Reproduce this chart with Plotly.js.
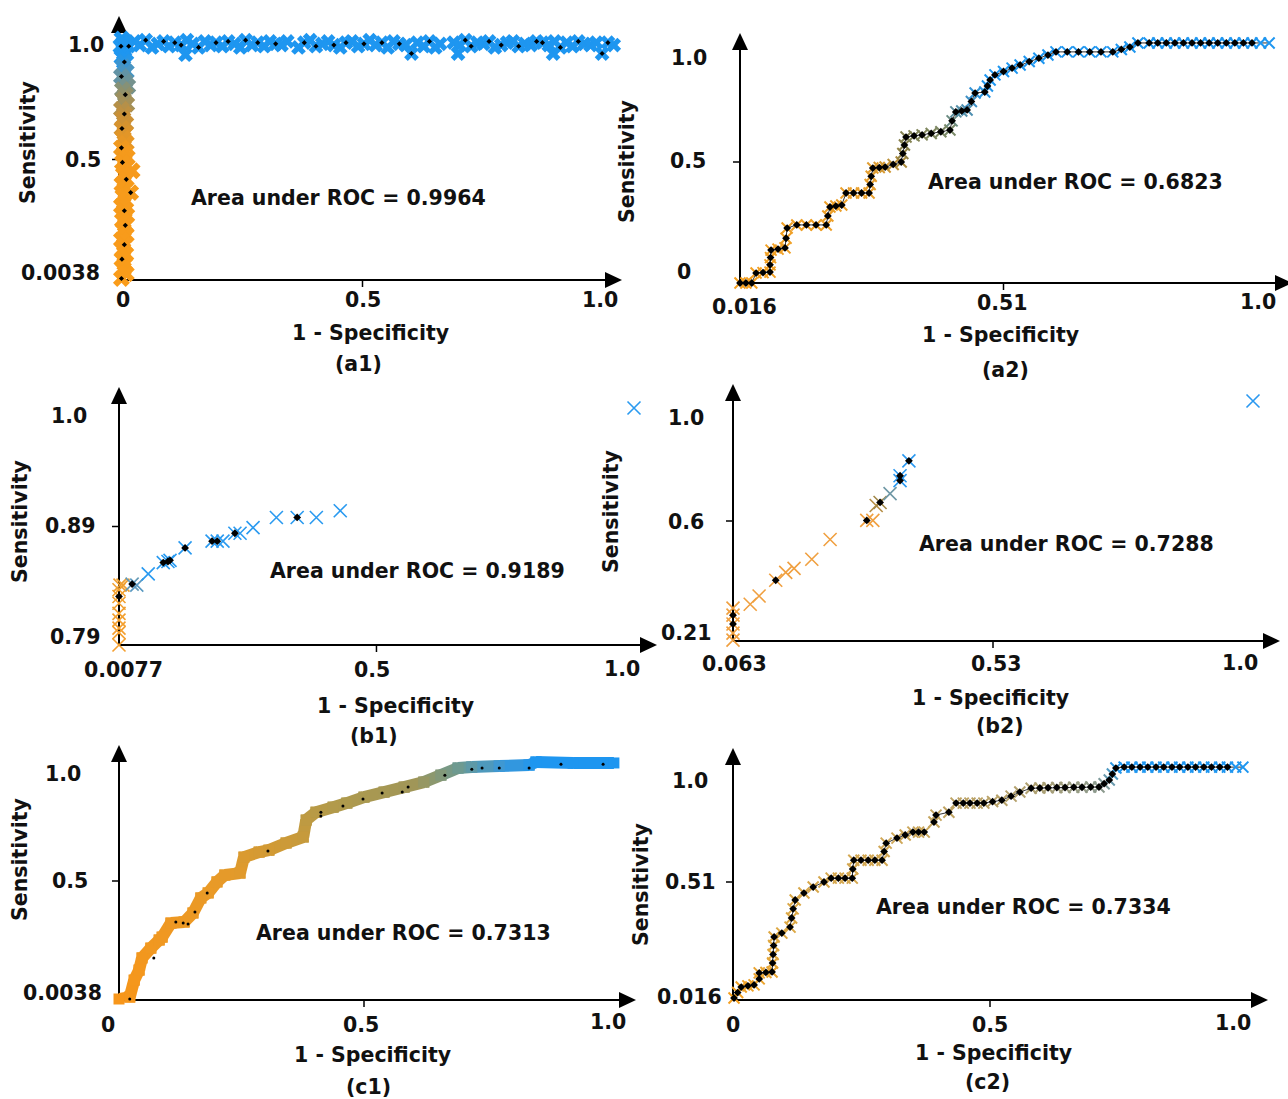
<!DOCTYPE html>
<html><head><meta charset="utf-8">
<script src="https://cdn.plot.ly/plotly-3.0.1.min.js"></script>
<style>html,body{margin:0;padding:0;background:#fff}</style>
</head><body><div id="chart" style="width:1288px;height:1099px"></div>
<script>
// ---------------- DATA ----------------
const panelCaptions = ['(a1)','(a2)','(b1)','(b2)','(c1)','(c2)'];
const aucValues = ['0.9964','0.6823','0.9189','0.7288','0.7313','0.7334'];
const xAxisTitle = '1 - Specificity';
const yAxisTitle = 'Sensitivity';

const a1XTicks = ['0','0.5','1.0'];      const a1YTicks = ['1.0','0.5','0.0038'];
const a2XTicks = ['0.016','0.51','1.0']; const a2YTicks = ['1.0','0.5','0'];
const b1XTicks = ['0.0077','0.5','1.0']; const b1YTicks = ['1.0','0.89','0.79'];
const b2XTicks = ['0.063','0.53','1.0']; const b2YTicks = ['1.0','0.6','0.21'];
const c1XTicks = ['0','0.5','1.0'];      const c1YTicks = ['1.0','0.5','0.0038'];
const c2XTicks = ['0','0.5','1.0'];      const c2YTicks = ['1.0','0.51','0.016'];

// (a1) vertical part of the curve  [1-specificity, sensitivity]
const a1Vertical = [[0.004,1.000],[0.010,0.985],[0.002,0.970],[0.008,0.955],[0.012,0.940],[0.004,0.925],[0.009,0.905],[0.006,0.885],[0.013,0.865],[0.003,0.845],[0.010,0.825],[0.016,0.805],[0.005,0.790],[0.011,0.770],[0.007,0.750],[0.014,0.730],[0.003,0.710],[0.009,0.690],[0.006,0.670],[0.012,0.650],[0.004,0.630],[0.010,0.610],[0.007,0.590],[0.013,0.570],[0.003,0.550],[0.009,0.530],[0.015,0.510],[0.005,0.490],[0.011,0.470],[0.025,0.455],[0.007,0.440],[0.013,0.420],[0.004,0.400],[0.010,0.380],[0.022,0.365],[0.006,0.350],[0.012,0.330],[0.003,0.310],[0.009,0.290],[0.014,0.270],[0.005,0.250],[0.011,0.230],[0.007,0.210],[0.013,0.190],[0.003,0.170],[0.009,0.150],[0.006,0.130],[0.012,0.110],[0.004,0.090],[0.010,0.070],[0.007,0.050],[0.013,0.030],[0.003,0.010],[0.008,-0.010],[0.030,0.000],[0.036,0.002]];
const a1VerticalDots = [2,6,9,13,17,20,24,27,31,34,38,41,45,48,52,54];
// (a1) horizontal part of the curve
const a1Horizontal = [[0.006,0.985],[0.018,0.970],[0.030,0.990],[0.041,0.975],[0.053,0.995],[0.066,0.965],[0.078,0.980],[0.090,0.990],[0.101,0.970],[0.113,0.985],[0.126,0.975],[0.138,0.995],[0.135,0.935],[0.150,0.980],[0.162,0.965],[0.175,0.990],[0.187,0.975],[0.198,0.985],[0.211,0.970],[0.223,0.990],[0.236,0.980],[0.248,0.965],[0.259,0.995],[0.272,0.975],[0.284,0.985],[0.297,0.970],[0.309,0.990],[0.321,0.980],[0.333,0.975],[0.345,0.990],[0.368,0.965],[0.380,0.985],[0.392,0.995],[0.404,0.970],[0.417,0.980],[0.429,0.990],[0.441,0.975],[0.454,0.965],[0.466,0.985],[0.478,0.990],[0.491,0.970],[0.503,0.980],[0.515,0.995],[0.527,0.975],[0.540,0.985],[0.552,0.965],[0.564,0.990],[0.576,0.980],[0.589,0.975],[0.601,0.940],[0.613,0.985],[0.626,0.970],[0.638,0.990],[0.650,0.965],[0.660,0.980],[0.688,0.985],[0.700,0.975],[0.712,0.995],[0.697,0.940],[0.724,0.970],[0.737,0.985],[0.749,0.980],[0.761,0.990],[0.773,0.965],[0.786,0.975],[0.798,0.985],[0.810,0.990],[0.822,0.970],[0.835,0.980],[0.847,0.975],[0.859,0.990],[0.893,0.940],[0.871,0.985],[0.884,0.975],[0.896,0.990],[0.908,0.965],[0.921,0.985],[0.933,0.970],[0.945,0.990],[0.957,0.980],[0.970,0.975],[0.994,0.940],[0.982,0.985],[1.006,0.985],[1.018,0.975]];
const a1HorizontalDots = [1,4,7,9,10,14,17,19,22,24,27,31,33,36,38,41,44,47,49,52,57,59,62,64,67,70,72,75,78,81,83];

// (a2)
const a2Curve = [[0.016,0.000],[0.027,0.000],[0.038,0.000],[0.046,0.041],[0.059,0.043],[0.072,0.045],[0.072,0.075],[0.073,0.105],[0.074,0.136],[0.087,0.140],[0.100,0.145],[0.102,0.185],[0.104,0.227],[0.122,0.240],[0.140,0.240],[0.158,0.240],[0.177,0.240],[0.180,0.277],[0.184,0.314],[0.195,0.318],[0.206,0.322],[0.214,0.372],[0.228,0.372],[0.243,0.372],[0.257,0.372],[0.259,0.407],[0.261,0.441],[0.264,0.475],[0.276,0.477],[0.287,0.479],[0.302,0.490],[0.317,0.500],[0.320,0.535],[0.323,0.570],[0.326,0.603],[0.341,0.608],[0.356,0.612],[0.373,0.618],[0.391,0.625],[0.408,0.632],[0.412,0.670],[0.419,0.707],[0.430,0.711],[0.440,0.715],[0.448,0.750],[0.455,0.785],[0.473,0.789],[0.478,0.814],[0.483,0.839],[0.492,0.860],[0.508,0.874],[0.524,0.888],[0.539,0.901],[0.556,0.915],[0.574,0.929],[0.591,0.942],[0.606,0.955],[0.627,0.955],[0.648,0.955],[0.669,0.955],[0.690,0.955],[0.712,0.955],[0.728,0.965],[0.744,0.975],[0.759,0.992],[0.780,0.992],[0.796,0.992],[0.812,0.992],[0.828,0.992],[0.844,0.992],[0.860,0.992],[0.876,0.992],[0.892,0.992],[0.908,0.992],[0.924,0.992],[0.940,0.992],[0.956,0.992],[0.972,0.992],[0.988,0.992],[1.004,0.992]];

// (b1)
const b1Points = [[0.0077,0.790],[0.0077,0.801],[0.0077,0.805],[0.0077,0.812],[0.0077,0.818],[0.0077,0.827],[0.0077,0.833],[0.0077,0.839],[0.0096,0.843],[0.0154,0.843],[0.033,0.844],[0.042,0.843],[0.064,0.853],[0.093,0.863],[0.102,0.864],[0.106,0.865],[0.135,0.876],[0.187,0.882],[0.197,0.882],[0.208,0.882],[0.231,0.889],[0.241,0.889],[0.266,0.894],[0.311,0.903],[0.351,0.903],[0.388,0.903],[0.434,0.909],[1.000,1.000]];
const b1Dots = [6,10,13,14,15,16,17,18,20,24];

// (b2)
const b2Points = [[0.063,0.213],[0.063,0.236],[0.063,0.266],[0.063,0.295],[0.063,0.318],[0.094,0.331],[0.110,0.358],[0.140,0.410],[0.158,0.436],[0.173,0.449],[0.205,0.479],[0.238,0.544],[0.304,0.607],[0.315,0.607],[0.321,0.656],[0.328,0.666],[0.346,0.695],[0.364,0.738],[0.364,0.754],[0.380,0.803],[1.000,1.000]];
const b2Dots = [2,3,7,12,15,17,18,19];

// (c1)
const c1Curve = [[0.000,0.008],[0.022,0.016],[0.031,0.087],[0.041,0.129],[0.047,0.180],[0.065,0.221],[0.082,0.255],[0.088,0.267],[0.106,0.326],[0.133,0.330],[0.151,0.368],[0.167,0.431],[0.182,0.452],[0.200,0.498],[0.216,0.527],[0.247,0.535],[0.255,0.602],[0.286,0.623],[0.306,0.631],[0.341,0.661],[0.376,0.686],[0.382,0.757],[0.402,0.790],[0.437,0.811],[0.465,0.828],[0.500,0.853],[0.541,0.874],[0.582,0.895],[0.622,0.916],[0.657,0.945],[0.692,0.975],[0.720,0.979],[0.776,0.983],[0.837,0.987],[0.851,1.000],[0.927,0.996],[1.010,0.996]];
const c1BlackPoints = [[0.022,0.008],[0.071,0.180],[0.116,0.330],[0.131,0.326],[0.141,0.322],[0.155,0.372],[0.180,0.452],[0.304,0.627],[0.412,0.790],[0.412,0.774],[0.457,0.816],[0.498,0.845],[0.537,0.870],[0.578,0.874],[0.590,0.895],[0.665,0.945],[0.720,0.970],[0.741,0.975],[0.776,0.975],[0.837,0.975],[0.902,0.991],[0.988,0.991]];

// (c2)
const c2Curve = [[0.002,0.024],[0.009,0.047],[0.016,0.070],[0.029,0.075],[0.041,0.079],[0.051,0.104],[0.051,0.129],[0.064,0.131],[0.076,0.133],[0.077,0.170],[0.078,0.206],[0.079,0.243],[0.080,0.279],[0.095,0.295],[0.111,0.320],[0.114,0.358],[0.117,0.396],[0.121,0.433],[0.138,0.462],[0.156,0.487],[0.177,0.508],[0.191,0.524],[0.205,0.524],[0.218,0.524],[0.232,0.524],[0.233,0.562],[0.235,0.599],[0.249,0.599],[0.263,0.599],[0.276,0.599],[0.290,0.599],[0.294,0.635],[0.298,0.670],[0.319,0.691],[0.335,0.704],[0.350,0.716],[0.361,0.716],[0.372,0.716],[0.391,0.758],[0.395,0.787],[0.420,0.799],[0.434,0.837],[0.448,0.837],[0.461,0.837],[0.475,0.837],[0.488,0.837],[0.505,0.843],[0.523,0.849],[0.541,0.866],[0.558,0.883],[0.580,0.899],[0.597,0.900],[0.613,0.901],[0.630,0.902],[0.646,0.902],[0.663,0.903],[0.679,0.903],[0.696,0.904],[0.712,0.904],[0.722,0.918],[0.732,0.933],[0.738,0.958],[0.745,0.983],[0.761,0.987],[0.776,0.987],[0.792,0.987],[0.807,0.987],[0.823,0.987],[0.838,0.987],[0.854,0.987],[0.869,0.987],[0.885,0.987],[0.900,0.987],[0.916,0.987],[0.931,0.987],[0.947,0.987],[0.962,0.987],[0.978,0.987],[0.992,0.987]];

// ---------------- LAYOUT / STYLE ----------------
const W = 1288, H = 1099;
const FONT = {family: 'DejaVu Sans, Verdana, sans-serif', size: 20.5, color: '#111'};
const BLUE = '#1e96f0';

const colorStops = {
  a1: [[0,'#fa9c1a'],[0.27,'#f59a1c'],[0.34,'#c89038'],[0.39,'#90906a'],[0.43,'#5a94b0'],[0.46,BLUE],[1,BLUE]],
  a2: [[0,'#f5a020'],[0.36,'#e8a030'],[0.43,'#8a8048'],[0.52,'#7a8a6a'],[0.58,'#4a90b8'],[0.65,BLUE],[1,BLUE]],
  b1: [[0,'#f5a030'],[0.13,'#f0a030'],[0.14,'#6a9ab0'],[0.15,'#3a98e0'],[0.17,'#2a9af0'],[1,'#2a9af0']],
  b2: [[0,'#f0a040'],[0.39,'#f0a040'],[0.43,'#a08848'],[0.46,'#6a9ab0'],[0.49,'#2a98f0'],[1,'#2a98f0']],
  c1: [[0,'#f7961a'],[0.35,'#e89a28'],[0.5,'#cc9a38'],[0.63,'#b09a4c'],[0.75,'#a09658'],[0.83,'#6e9a90'],[0.88,'#3a98d8'],[0.92,BLUE],[1,BLUE]],
  c2: [[0,'#f5a020'],[0.15,'#e0a840'],[0.5,'#d0a858'],[0.75,'#b0a070'],[0.82,'#8a9a90'],[0.86,'#4a9ac8'],[0.88,BLUE],[1,BLUE]]
};

function hexToRgb(h){ return [parseInt(h.slice(1,3),16),parseInt(h.slice(3,5),16),parseInt(h.slice(5,7),16)]; }
function colorAt(stops, t){
  if (t <= stops[0][0]) return stops[0][1];
  for (let i = 1; i < stops.length; i++) {
    if (t <= stops[i][0]) {
      const a = hexToRgb(stops[i-1][1]), b = hexToRgb(stops[i][1]);
      const f = (t - stops[i-1][0]) / (stops[i][0] - stops[i-1][0]);
      return 'rgb(' + a.map((v,k) => Math.round(v + (b[k]-v)*f)).join(',') + ')';
    }
  }
  return stops[stops.length-1][1];
}
// position along the curve (0..1), used for the threshold colouring
function progress(pts, all){
  const xs = all.map(p=>p[0]), ys = all.map(p=>p[1]);
  const x0 = Math.min(...xs), x1 = Math.max(...xs), y0 = Math.min(...ys), y1 = Math.max(...ys);
  return pts.map(p => ((p[0]-x0)/(x1-x0) + (p[1]-y0)/(y1-y0)) / 2);
}
function lin(m, px){ return m[0] + (px - m[1]) * (m[2] - m[0]) / (m[3] - m[1]); }
const X = p => p.map(d => d[0]);
const Y = p => p.map(d => d[1]);
const pick = (p, idx) => idx.map(i => p[i]);

// pixel placement of each panel (axis origin, arrow tips, calibration)
const panels = [
 {key:'a1', ax:119, ay:280, xt:622, yt:16, xm:[0,120,1,605], ym:[0.0038,280,1,39], xmid:0.5, ymid:0.5019,
  xLab:a1XTicks, xPos:[[123,300],[363,300],[600,300]], yLab:a1YTicks, yPos:[[86,45],[83,160],[60,273]],
  tX:[370,333], cap:[358,364], sens:[28,143], auc:[338,198]},
 {key:'a2', ax:740, ay:283, xt:1292, yt:33, xm:[0.016,740,1,1267], ym:[0,283,1,41], xmid:0.508, ymid:0.5,
  xLab:a2XTicks, xPos:[[744,307],[1002,303],[1258,302]], yLab:a2YTicks, yPos:[[689,58],[688,161],[684,272]],
  tX:[1000,335], cap:[1005,370], sens:[627,162], auc:[1075,182]},
 {key:'b1', ax:119, ay:645, xt:657, yt:387, xm:[0.0077,119,1,634], ym:[0.79,645,1,408], xmid:0.5038, ymid:0.895,
  xLab:b1XTicks, xPos:[[123,670],[372,670],[622,669]], yLab:b1YTicks, yPos:[[69,416],[70,526],[75,637]],
  tX:[395,706], cap:[374,736], sens:[20,522], auc:[418,571]},
 {key:'b2', ax:733, ay:641, xt:1280, yt:384, xm:[0.063,733,1,1253], ym:[0.21,641,1,401], xmid:0.5315, ymid:0.605,
  xLab:b2XTicks, xPos:[[734,664],[997,664],[1240,663]], yLab:b2YTicks, yPos:[[686,418],[686,522],[686,633]],
  tX:[990,698], cap:[1000,726], sens:[611,512], auc:[1066,544]},
 {key:'c1', ax:119, ay:1000, xt:636, yt:745, xm:[0,119,1,609], ym:[0.0038,1000,1,762], xmid:0.5, ymid:0.5019,
  xLab:c1XTicks, xPos:[[108,1025],[361,1025],[608,1022]], yLab:c1YTicks, yPos:[[63,774],[70,881],[62,993]],
  tX:[372,1055], cap:[368,1087], sens:[20,860], auc:[403,933]},
 {key:'c2', ax:733, ay:1000, xt:1268, yt:748, xm:[0,733,1,1247], ym:[0.016,1000,1,764], xmid:0.5, ymid:0.508,
  xLab:c2XTicks, xPos:[[733,1025],[990,1025],[1233,1023]], yLab:c2YTicks, yPos:[[690,781],[690,882],[689,997]],
  tX:[993,1053], cap:[988,1082], sens:[641,885], auc:[1023,907]}
];

const layout = {
  width: W, height: H, margin: {l:0, r:0, t:0, b:0},
  paper_bgcolor: '#ffffff', plot_bgcolor: 'rgba(0,0,0,0)',
  showlegend: false, shapes: [], annotations: [], font: FONT
};
const traces = [];
const px = v => v / W, py = v => 1 - v / H;
const txt = (s, x, y, extra) => Object.assign({text: '<b>' + s + '</b>', xref:'paper', yref:'paper',
  x: px(x), y: py(y), xanchor:'center', yanchor:'middle', showarrow:false, font: FONT}, extra || {});

panels.forEach((p, i) => {
  const n = i + 1, xa = 'x' + n, ya = 'y' + n;
  const xr = Math.min(p.xt, W);
  layout['xaxis' + n] = {domain:[px(p.ax), px(xr)], range:[lin(p.xm, p.ax), lin(p.xm, xr)], anchor: ya, visible:false, fixedrange:true};
  layout['yaxis' + n] = {domain:[py(p.ay), py(p.yt)], range:[lin(p.ym, p.ay), lin(p.ym, p.yt)], anchor: xa, visible:false, fixedrange:true};
  const L = 17, HW = 8, ln = {color:'#000', width:2};
  // axis lines with arrow heads
  layout.shapes.push({type:'line', xref:'paper', yref:'paper', x0:px(p.ax), x1:px(p.xt - L + 2), y0:py(p.ay), y1:py(p.ay), line:ln, layer:'below'});
  layout.shapes.push({type:'line', xref:'paper', yref:'paper', x0:px(p.ax), x1:px(p.ax), y0:py(p.ay), y1:py(p.yt + L - 2), line:ln, layer:'below'});
  layout.shapes.push({type:'path', xref:'paper', yref:'paper', layer:'below', fillcolor:'#000', line:{width:0},
    path:`M ${px(p.xt)} ${py(p.ay)} L ${px(p.xt - L)} ${py(p.ay - HW)} L ${px(p.xt - L)} ${py(p.ay + HW)} Z`});
  layout.shapes.push({type:'path', xref:'paper', yref:'paper', layer:'below', fillcolor:'#000', line:{width:0},
    path:`M ${px(p.ax)} ${py(p.yt)} L ${px(p.ax - HW)} ${py(p.yt + L)} L ${px(p.ax + HW)} ${py(p.yt + L)} Z`});
  // middle tick marks, through the axis scales
  layout.shapes.push({type:'line', xref:xa, yref:'paper', x0:p.xmid, x1:p.xmid, y0:py(p.ay), y1:py(p.ay + 7), line:{color:'#000', width:1.5}, layer:'below'});
  layout.shapes.push({type:'line', xref:'paper', yref:ya, x0:px(p.ax - 7), x1:px(p.ax), y0:p.ymid, y1:p.ymid, line:{color:'#000', width:1.5}, layer:'below'});
  // texts
  p.xLab.forEach((s, k) => layout.annotations.push(txt(s, p.xPos[k][0], p.xPos[k][1])));
  p.yLab.forEach((s, k) => layout.annotations.push(txt(s, p.yPos[k][0], p.yPos[k][1])));
  layout.annotations.push(txt(xAxisTitle, p.tX[0], p.tX[1]));
  layout.annotations.push(txt(panelCaptions[i], p.cap[0], p.cap[1]));
  layout.annotations.push(txt(yAxisTitle, p.sens[0], p.sens[1], {textangle:-90}));
  layout.annotations.push(txt('Area under ROC = ' + aucValues[i], p.auc[0], p.auc[1]));
});

const black = (pts, xa, ya, sym, size) => ({type:'scatter', mode:'markers', x:X(pts), y:Y(pts), xaxis:xa, yaxis:ya,
  cliponaxis:false, hoverinfo:'skip', marker:{symbol:sym, size:size, color:'#000', line:{width:0}}});

// (a1) dense band
{
  const all = a1Vertical.concat(a1Horizontal);
  [[a1Vertical, 15], [a1Horizontal, 13]].forEach(([s, sz]) => {
    const t = progress(s, all);
    traces.push({type:'scatter', mode:'markers', x:X(s), y:Y(s), xaxis:'x', yaxis:'y', cliponaxis:false, hoverinfo:'skip',
      marker:{symbol:'x', size:sz, color:t.map(v => colorAt(colorStops.a1, v)), line:{width:0}}});
  });
  traces.push(black(pick(a1Vertical, a1VerticalDots), 'x', 'y', 'diamond', 4));
  traces.push(black(pick(a1Horizontal, a1HorizontalDots), 'x', 'y', 'diamond', 4));
}
// step curves (a2, c2)
[[a2Curve, 2, 'a2'], [c2Curve, 6, 'c2']].forEach(([s, n, key]) => {
  const t = progress(s, s);
  const xa = 'x' + n, ya = 'y' + n;
  traces.push({type:'scatter', mode:'lines', x:X(s), y:Y(s), xaxis:xa, yaxis:ya, cliponaxis:false, hoverinfo:'skip',
    line:{color:'#333', width:1}});
  traces.push({type:'scatter', mode:'markers', x:X(s), y:Y(s), xaxis:xa, yaxis:ya, cliponaxis:false, hoverinfo:'skip',
    marker:{symbol:'x-thin-open', size:11, color:t.map(v => colorAt(colorStops[key], v)), line:{width:2}}});
  traces.push(black(s.slice(0, s.length - 2), xa, ya, 'diamond', 6));
});
// sparse curves (b1, b2)
[[b1Points, b1Dots, 3, 'b1'], [b2Points, b2Dots, 4, 'b2']].forEach(([s, d, n, key]) => {
  const t = progress(s, s);
  const xa = 'x' + n, ya = 'y' + n;
  traces.push({type:'scatter', mode:'markers', x:X(s), y:Y(s), xaxis:xa, yaxis:ya, cliponaxis:false, hoverinfo:'skip',
    marker:{symbol:'x-thin-open', size:13, color:t.map(v => colorAt(colorStops[key], v)), line:{width:1.6}}});
  traces.push(black(pick(s, d), xa, ya, 'diamond', 6));
});
// (c1) thick band, coloured segment by segment
{
  const t = progress(c1Curve, c1Curve);
  for (let k = 0; k < c1Curve.length - 1; k++) {
    const seg = [c1Curve[k], c1Curve[k+1]];
    traces.push({type:'scatter', mode:'lines+markers', x:X(seg), y:Y(seg), xaxis:'x5', yaxis:'y5', cliponaxis:false, hoverinfo:'skip',
      line:{color:colorAt(colorStops.c1, (t[k] + t[k+1]) / 2), width:12},
      marker:{symbol:'square', size:11, color:[colorAt(colorStops.c1, t[k]), colorAt(colorStops.c1, t[k+1])], line:{width:0}}});
  }
  traces.push(black(c1BlackPoints, 'x5', 'y5', 'circle', 3));
}

Plotly.newPlot('chart', traces, layout, {staticPlot:true, displayModeBar:false});
</script></body></html>
